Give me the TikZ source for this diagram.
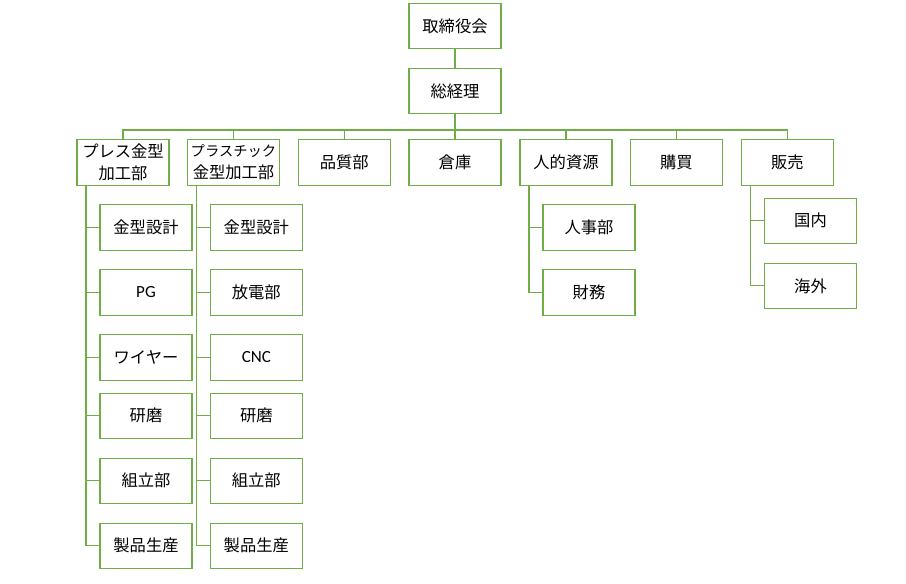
\documentclass[tikz,border=0pt]{standalone}
\usepackage{fontspec}
\setmainfont{Noto Sans CJK JP}
\newfontfamily\latinf{Carlito}
\definecolor{lgreen}{RGB}{112,173,71}
\tikzset{
  box/.style={draw=lgreen, line width=1.1pt, fill=white, rectangle, minimum width=92pt, minimum height=45.5pt, inner sep=0pt, align=center, font=\fontsize{16.3}{21.7}\selectfont, text=black},
  link/.style={draw=lgreen, line width=1.1pt}
}
\begin{document}
\begin{tikzpicture}[x=1pt,y=-1pt]
\useasboundingbox (0,0) rectangle (906,584);
% top
\node[box] (board) at (455,26) {取締役会};
\node[box] (gm) at (455,91) {総経理};
\coordinate (bus) at (455,130);
% row 1
\node[box] (press) at (123,162.3) {プレス金型\\加工部};
\node[box] (plast) at (233.5,162.3) {{\fontsize{14.3}{21.7}\selectfont プラスチック}\\金型加工部};
\node[box] (qual) at (344.3,162.3) {品質部};
\node[box] (ware) at (455,162.3) {倉庫};
\node[box] (hr) at (566,162.3) {人的資源};
\node[box] (buy) at (676.3,162.3) {購買};
\node[box] (sales) at (787.3,162.3) {販売};
% press children
\node[box] (pa) at (146,227.3) {金型設計};
\node[box] (pb) at (146,292.3) {\latinf\fontsize{17}{20}\selectfont PG};
\node[box] (pc) at (146,357.3) {ワイヤー};
\node[box] (pd) at (146,415.8) {研磨};
\node[box] (pe) at (146,480.8) {組立部};
\node[box] (pf) at (146,545.8) {製品生産};
% plastic children
\node[box] (qa) at (256.3,227.3) {金型設計};
\node[box] (qb) at (256.3,292.3) {放電部};
\node[box] (qc) at (256.3,357.3) {\latinf\fontsize{17}{20}\selectfont CNC};
\node[box] (qd) at (256.3,415.8) {研磨};
\node[box] (qe) at (256.3,480.8) {組立部};
\node[box] (qf) at (256.3,545.8) {製品生産};
% hr children
\node[box] (ha) at (589,227.3) {人事部};
\node[box] (hb) at (589,292.3) {財務};
% sales children
\node[box] (sa) at (810.5,220.8) {国内};
\node[box] (sb) at (810.5,285.8) {海外};
% connectors
\draw[link] (board.south) -- (gm.north);
\draw[link] (gm.south) -- (bus);
\foreach \n in {press,plast,qual,ware,hr,buy,sales}
  \draw[link] (bus) -| (\n.north);
\foreach \c in {pa,pb,pc,pd,pe,pf}
  \draw[link] ([xshift=9.5pt]press.south west) |- (\c.west);
\foreach \c in {qa,qb,qc,qd,qe,qf}
  \draw[link] ([xshift=9.5pt]plast.south west) |- (\c.west);
\foreach \c in {ha,hb}
  \draw[link] ([xshift=9.5pt]hr.south west) |- (\c.west);
\foreach \c in {sa,sb}
  \draw[link] ([xshift=9.5pt]sales.south west) |- (\c.west);
\end{tikzpicture}
\end{document}
